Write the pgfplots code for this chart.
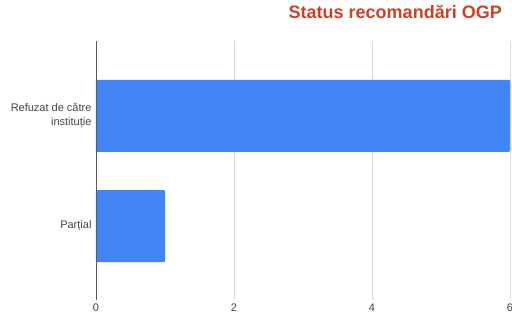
\documentclass[border=0pt]{standalone}
\usepackage{pgfplots}
\pgfplotsset{compat=1.18}
\usepackage{fontspec}
\setmainfont{Liberation Sans}
\definecolor{barblue}{HTML}{4285F4}
\definecolor{titlecol}{HTML}{CC4125}
\definecolor{gridcol}{HTML}{D9D9D9}
\definecolor{tickcol}{HTML}{444444}
\begin{document}
\begin{tikzpicture}
\begin{axis}[
  name=ax,
  scale only axis,
  width=414pt, height=259pt,
  xmin=0, xmax=6,
  ymin=-0.68, ymax=1.67,
  y dir=reverse,
  xbar,
  bar width=72pt,
  bar shift=0pt,
  xtick={0,2,4,6},
  ytick={0,1},
  yticklabels={{Refuzat de către\\instituție},{Parțial}},
  yticklabel style={align=right, font=\fontsize{11}{14}\selectfont, text=tickcol, xshift=-1pt},
  xticklabel style={font=\fontsize{11}{13}\selectfont, text=tickcol},
  /pgf/number format/assume math mode=true,
  major tick length=0pt,
  xmajorgrids,
  grid style={draw=gridcol, line width=0.8pt},
  axis line style={draw=none},
  title={Status recomandări OGP},
  title style={at={(1,1)}, anchor=base east, xshift=-8pt, yshift=16pt,
    font=\bfseries\fontsize{18}{18}\selectfont, text=titlecol, inner sep=0pt},
]
\addplot[fill=barblue, draw=none, rounded corners=1pt] coordinates {(6,0) (1,1)};
\draw[draw=black!65, line width=0.9pt] (axis cs:0,-0.68) -- (axis cs:0,1.67);
\end{axis}
\pgfresetboundingbox
\useasboundingbox ([xshift=-96pt, yshift=41pt]ax.north west) rectangle ([xshift=2pt, yshift=-23pt]ax.south east);
\end{tikzpicture}
\end{document}
